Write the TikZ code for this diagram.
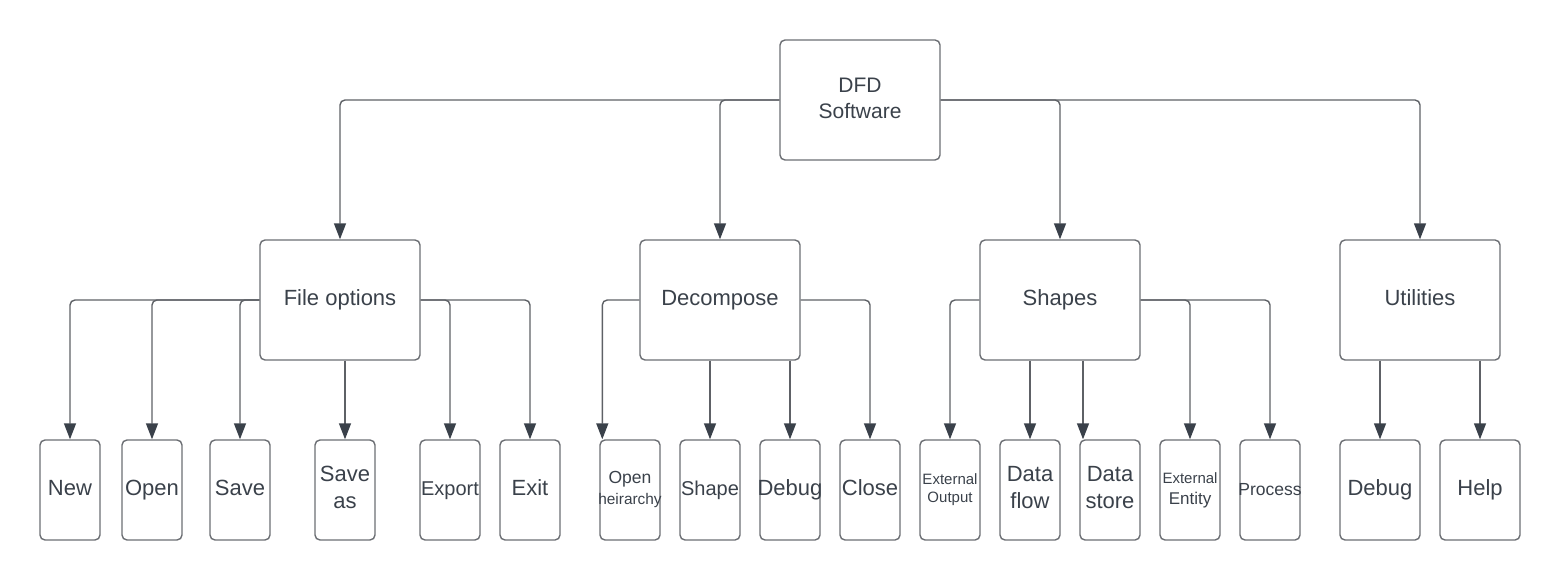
\documentclass[tikz,border=0pt]{standalone}
\usepackage{fontspec}
\setmainfont{Liberation Sans}
\usetikzlibrary{arrows.meta}
\definecolor{boxc}{HTML}{6B6E73}
\definecolor{linec}{HTML}{5E6166}
\definecolor{arrc}{HTML}{3A414A}
\definecolor{txtc}{HTML}{3A414A}
\newcommand{\zw}[1]{\makebox[0pt]{\strut #1}}
\newcommand{\fs}[2]{\fontsize{#1}{#2}\selectfont}
\tikzset{
  box/.style={draw=boxc, line width=1.4pt, rounded corners=5pt, minimum width=160pt,
    minimum height=120pt, inner sep=0pt, align=center, text=txtc, font=\fs{22}{27}},
  leaf/.style={box, minimum width=60pt, minimum height=100pt},
  wleaf/.style={box, minimum width=80pt, minimum height=100pt},
  conn/.style={draw=linec, line width=1.4pt, rounded corners=5pt,
    -{Triangle[width=12pt,length=16pt,color=arrc]}}
}
\begin{document}
\begin{tikzpicture}[x=1pt,y=-1pt]
\useasboundingbox (0,0) rectangle (1560,580);
% root
\node[box, font=\fs{21}{26}] (dfd) at (860,100) {\zw{DFD}\\\zw{Software}};
% level 2
\node[box] (file) at (340,300) {\strut File options};
\node[box] (dec)  at (720,300) {\strut Decompose};
\node[box] (shp)  at (1060,300) {\strut Shapes};
\node[box] (util) at (1420,300) {\strut Utilities};
% level 3 - file options
\node[leaf] (new)    at (70,490)  {\zw{New}};
\node[leaf] (open)   at (152,490) {\zw{Open}};
\node[leaf] (save)   at (240,490) {\zw{Save}};
\node[leaf] (saveas) at (345,490) {\zw{Save}\\\zw{as}};
\node[leaf, font=\fs{20}{27}] (export) at (450,490) {\zw{Export}};
\node[leaf] (exit)   at (530,490) {\zw{Exit}};
% level 3 - decompose
\node[leaf, font=\fs{17.5}{21}] (oh) at (630,490) {\zw{Open}\\\zw{\fs{15.4}{21}heirarchy}};
\node[leaf, font=\fs{20}{27}] (shape) at (710,490) {\zw{Shape}};
\node[leaf] (dbga)  at (790,490) {\zw{Debug}};
\node[leaf] (close) at (870,490) {\zw{Close}};
% level 3 - shapes
\node[leaf, font=\fs{15}{18}] (eo) at (950,490) {\zw{External}\\\zw{Output}};
\node[leaf] (df) at (1030,490) {\zw{Data}\\\zw{flow}};
\node[leaf] (ds) at (1110,490) {\zw{Data}\\\zw{store}};
\node[leaf, font=\fs{17}{21}] (ee) at (1190,490) {\zw{\fs{15}{21}External}\\\zw{Entity}};
\node[leaf, font=\fs{17.5}{27}] (proc) at (1270,490) {\zw{Process}};
% level 3 - utilities
\node[wleaf] (dbgb) at (1380,490) {\zw{Debug}};
\node[wleaf] (help) at (1480,490) {\zw{Help}};
% helper coordinates
\coordinate (ohin) at ([xshift=3pt]oh.north west);
\coordinate (dsin) at ([xshift=3.7pt]ds.north west);
% connectors root
\draw[conn] (dfd.west) -| (file.north);
\draw[conn] (dfd.west) -| (dec.north);
\draw[conn] (dfd.east) -| (shp.north);
\draw[conn] (dfd.east) -| (util.north);
% file options
\draw[conn] (file.west) -| (new.north);
\draw[conn] (file.west) -| (open.north);
\draw[conn] (file.west) -| (save.north);
\draw[conn] (saveas.north |- file.south) -- (saveas.north);
\draw[conn] (file.east) -| (export.north);
\draw[conn] (file.east) -| (exit.north);
% decompose
\draw[conn] (dec.west) -| (ohin);
\draw[conn] (shape.north |- dec.south) -- (shape.north);
\draw[conn] (dbga.north |- dec.south) -- (dbga.north);
\draw[conn] (dec.east) -| (close.north);
% shapes
\draw[conn] (shp.west) -| (eo.north);
\draw[conn] (df.north |- shp.south) -- (df.north);
\draw[conn] (dsin |- shp.south) -- (dsin);
\draw[conn] (shp.east) -| (ee.north);
\draw[conn] (shp.east) -| (proc.north);
% utilities
\draw[conn] (dbgb.north |- util.south) -- (dbgb.north);
\draw[conn] (help.north |- util.south) -- (help.north);
\end{tikzpicture}
\end{document}
